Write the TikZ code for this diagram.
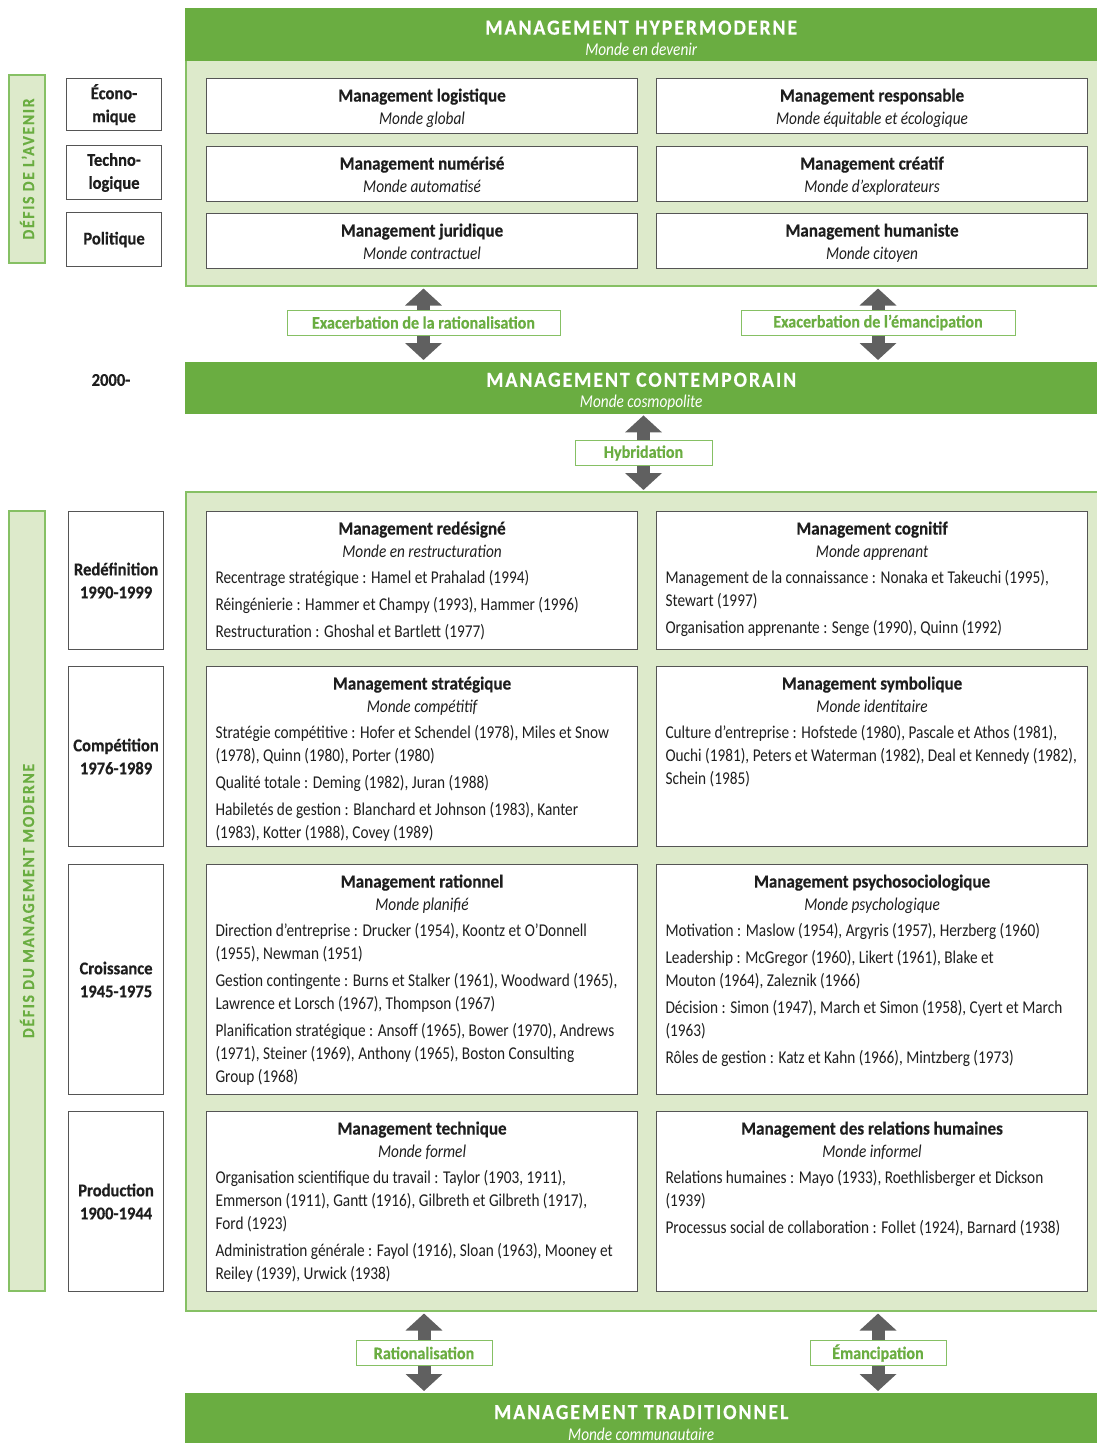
\documentclass[tikz,border=0pt]{standalone}
\usepackage{fontspec}
\setmainfont{Carlito}[FakeStretch=0.85, BoldFeatures={FakeStretch=0.92, FakeBold=0.4}]
\definecolor{mgGreen}{HTML}{6AAD41}
\definecolor{mgPale}{HTML}{DDEACB}
\definecolor{mgLine}{HTML}{86C064}
\definecolor{mgArrow}{HTML}{606060}
\definecolor{mgBorder}{HTML}{555555}
\definecolor{mgInk}{HTML}{1E1E1E}
\usetikzlibrary{positioning,arrows.meta}

% height, title, world, references
\newcommand{\mgcell}[4]{%
  \begin{minipage}[t][#1][t]{413pt}\fontsize{18}{23}\selectfont\color{mgInk}%
    \vspace*{10pt}%
    {\centering\bfseries\fontsize{18.5}{23}\selectfont #2\par}%
    {\centering\itshape #3\par}%
    \vspace{-1pt}\setlength{\parskip}{4pt}\raggedright #4%
  \end{minipage}}

\tikzset{
  panel/.style={draw=mgLine, fill=mgPale, line width=1.5pt, anchor=north west, inner sep=0pt},
  hbar/.style={fill=mgGreen, anchor=north west, inner sep=0pt, text=white, align=center,
    font=\fontsize{18}{21}\selectfont, text height=42pt},
  cell/.style={draw=mgBorder, fill=white, line width=1.1pt, inner xsep=9pt, inner ysep=0pt, anchor=north west},
  lbox/.style={draw=mgBorder, fill=white, line width=1.1pt, align=center, text=mgInk,
    font=\bfseries\fontsize{18}{23}\selectfont, anchor=north west, inner sep=0pt},
  vbar/.style={draw=mgLine, fill=mgPale, line width=1.5pt, rotate=90, text=mgGreen, inner sep=0pt,
    font=\bfseries\fontsize{17}{17}\selectfont\addfontfeature{LetterSpace=10}},
  glab/.style={draw=mgLine, fill=white, line width=1pt, text=mgGreen, inner sep=0pt,
    font=\bfseries\fontsize{17.5}{17.5}\selectfont, minimum height=25pt},
  dbl/.style={draw=mgArrow, line width=13pt, -{Triangle[width=36pt,length=17pt]}},
}
\newcommand{\bartitle}[1]{{\bfseries\fontsize{21.5}{21}\selectfont\addfontfeature{LetterSpace=9}#1}}

\begin{document}
\begin{tikzpicture}[x=1pt, y=-1pt]
  \useasboundingbox (0,0) rectangle (1097,1443);

  % --- hypermoderne
  \node[panel, minimum width=912pt, minimum height=277pt] (hyperpanel) at (185,8) {};
  \node[hbar, minimum width=912pt, minimum height=53pt] (hyper) at (185,8)
    {\bartitle{MANAGEMENT HYPERMODERNE}\\\itshape Monde en devenir};

  \node[cell] (logi) at (206,78) {\mgcell{55pt}{Management logistique}{Monde global}{}};
  \node[cell] (resp) at (656,78) {\mgcell{55pt}{Management responsable}{Monde équitable et écologique}{}};
  \node[cell] (nume) at (206,146) {\mgcell{55pt}{Management numérisé}{Monde automatisé}{}};
  \node[cell] (crea) at (656,146) {\mgcell{55pt}{Management créatif}{Monde d’explorateurs}{}};
  \node[cell] (juri) at (206,213) {\mgcell{55pt}{Management juridique}{Monde contractuel}{}};
  \node[cell] (huma) at (656,213) {\mgcell{55pt}{Management humaniste}{Monde citoyen}{}};

  \node[vbar, minimum width=188pt, minimum height=36pt] (avenir) at (27,169) {DÉFIS DE L’AVENIR};
  \node[lbox, minimum width=95pt, minimum height=52pt] (eco) at (66,78) {Écono-\\mique};
  \node[lbox, minimum width=95pt, minimum height=54pt] (tech) at (66,145) {Techno-\\logique};
  \node[lbox, minimum width=95pt, minimum height=54pt] (poli) at (66,212) {Politique};

  % --- contemporain
  \node[hbar, minimum width=912pt, minimum height=52pt] (contemp) at (185,362)
    {\bartitle{MANAGEMENT CONTEMPORAIN}\\\itshape Monde cosmopolite};
  \node[font=\bfseries\fontsize{18}{18}\selectfont, text=mgInk] (an2000) at (111,380) {2000-};

  \node[glab, minimum width=273pt] (exrat) at (423.5,322.5) {Exacerbation de la rationalisation};
  \node[glab, minimum width=274pt] (exema) at (878,322.5) {Exacerbation de l’émancipation};
  \draw[dbl] (exrat.north) -- ([yshift=-2pt]exrat.north |- hyperpanel.south);
  \draw[dbl] (exrat.south) -- ([yshift=2pt]exrat.south |- contemp.north);
  \draw[dbl] (exema.north) -- ([yshift=-2pt]exema.north |- hyperpanel.south);
  \draw[dbl] (exema.south) -- ([yshift=2pt]exema.south |- contemp.north);

  % --- moderne
  \node[panel, minimum width=912pt, minimum height=819pt] (modpanel) at (185,491) {};
  \node[glab, minimum width=137pt] (hybr) at (643.5,453) {Hybridation};
  \draw[dbl] (hybr.north) -- ([yshift=-1pt]hybr.north |- contemp.south);
  \draw[dbl] (hybr.south) -- ([yshift=1pt]hybr.south |- modpanel.north);

  \node[vbar, minimum width=780pt, minimum height=36pt] (moderne) at (27,901) {DÉFIS DU MANAGEMENT MODERNE};
  \node[lbox, minimum width=95pt, minimum height=138pt] (redef) at (68,511) {Redéfinition\\1990-1999};
  \node[lbox, minimum width=95pt, minimum height=180pt] (compet) at (68,666) {Compétition\\1976-1989};
  \node[lbox, minimum width=95pt, minimum height=230pt] (croiss) at (68,864) {Croissance\\1945-1975};
  \node[lbox, minimum width=95pt, minimum height=180pt] (prod) at (68,1111) {Production\\1900-1944};

  \node[cell] (redes) at (206,511) {\mgcell{138pt}{Management redésigné}{Monde en restructuration}{%
    Recentrage stratégique : Hamel et Prahalad (1994)\par
    Réingénierie : Hammer et Champy (1993), Hammer (1996)\par
    Restructuration : Ghoshal et Bartlett (1977)}};
  \node[cell] (cogn) at (656,511) {\mgcell{138pt}{Management cognitif}{Monde apprenant}{%
    Management de la connaissance : Nonaka et Takeuchi (1995),\\ Stewart (1997)\par
    Organisation apprenante : Senge (1990), Quinn (1992)}};

  \node[cell] (strat) at (206,666) {\mgcell{180pt}{Management stratégique}{Monde compétitif}{%
    Stratégie compétitive : Hofer et Schendel (1978), Miles et Snow\\ (1978), Quinn (1980), Porter (1980)\par
    Qualité totale : Deming (1982), Juran (1988)\par
    Habiletés de gestion : Blanchard et Johnson (1983), Kanter\\ (1983), Kotter (1988), Covey (1989)}};
  \node[cell] (symb) at (656,666) {\mgcell{180pt}{Management symbolique}{Monde identitaire}{%
    Culture d’entreprise : Hofstede (1980), Pascale et Athos (1981),\\ Ouchi (1981), Peters et Waterman (1982), Deal et Kennedy (1982),\\ Schein (1985)}};

  \node[cell] (ratio) at (206,864) {\mgcell{230pt}{Management rationnel}{Monde planifié}{%
    Direction d’entreprise : Drucker (1954), Koontz et O’Donnell\\ (1955), Newman (1951)\par
    Gestion contingente : Burns et Stalker (1961), Woodward (1965),\\ Lawrence et Lorsch (1967), Thompson (1967)\par
    Planification stratégique : Ansoff (1965), Bower (1970), Andrews\\ (1971), Steiner (1969), Anthony (1965), Boston Consulting\\ Group (1968)}};
  \node[cell] (psych) at (656,864) {\mgcell{230pt}{Management psychosociologique}{Monde psychologique}{%
    Motivation : Maslow (1954), Argyris (1957), Herzberg (1960)\par
    Leadership : McGregor (1960), Likert (1961), Blake et\\ Mouton (1964), Zaleznik (1966)\par
    Décision : Simon (1947), March et Simon (1958), Cyert et March\\ (1963)\par
    Rôles de gestion : Katz et Kahn (1966), Mintzberg (1973)}};

  \node[cell] (techn) at (206,1111) {\mgcell{180pt}{Management technique}{Monde formel}{%
    Organisation scientifique du travail : Taylor (1903, 1911),\\ Emmerson (1911), Gantt (1916), Gilbreth et Gilbreth (1917),\\ Ford (1923)\par
    Administration générale : Fayol (1916), Sloan (1963), Mooney et\\ Reiley (1939), Urwick (1938)}};
  \node[cell] (relh) at (656,1111) {\mgcell{180pt}{Management des relations humaines}{Monde informel}{%
    Relations humaines : Mayo (1933), Roethlisberger et Dickson\\ (1939)\par
    Processus social de collaboration : Follet (1924), Barnard (1938)}};

  % --- traditionnel
  \node[hbar, minimum width=912pt, minimum height=52pt] (trad) at (185,1393)
    {\bartitle{MANAGEMENT TRADITIONNEL}\\\itshape Monde communautaire};
  \node[glab, minimum width=136pt] (ratl) at (424,1353) {Rationalisation};
  \node[glab, minimum width=136pt] (eman) at (878,1353) {Émancipation};
  \draw[dbl] (ratl.north) -- ([yshift=-2pt]ratl.north |- modpanel.south);
  \draw[dbl] (ratl.south) -- ([yshift=2pt]ratl.south |- trad.north);
  \draw[dbl] (eman.north) -- ([yshift=-2pt]eman.north |- modpanel.south);
  \draw[dbl] (eman.south) -- ([yshift=2pt]eman.south |- trad.north);
\end{tikzpicture}
\end{document}
